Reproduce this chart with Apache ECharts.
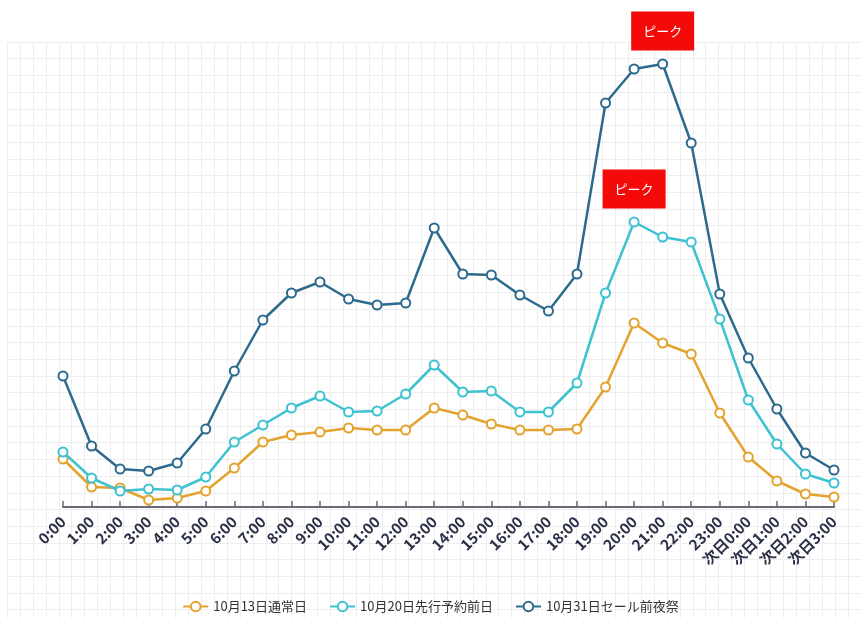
<!DOCTYPE html>
<html>
<head>
<meta charset="utf-8">
<script src="https://cdn.jsdelivr.net/npm/echarts@6/dist/echarts.min.js"></script>
<style>
  html, body { margin: 0; padding: 0; background: #fff; }
  #main { width: 861px; height: 618px; }
</style>
</head>
<body>
<div id="main"></div>
<script>
// 時間帯
var hours = ['0:00', '1:00', '2:00', '3:00', '4:00', '5:00', '6:00', '7:00', '8:00', '9:00',
  '10:00', '11:00', '12:00', '13:00', '14:00', '15:00', '16:00', '17:00', '18:00', '19:00',
  '20:00', '21:00', '22:00', '23:00', '次日0:00', '次日1:00', '次日2:00', '次日3:00'];

var seriesNames = ['10月13日通常日', '10月20日先行予約前日', '10月31日セール前夜祭'];

var normalDay = [48, 20, 19, 7, 9, 16, 39, 65, 72, 75, 79, 77, 77, 99, 92, 83, 77, 77, 78, 120, 184, 164, 153, 94, 50, 26, 13, 10];
var preOrderDay = [55, 29, 16, 18, 17, 30, 65, 82, 99, 111, 95, 96, 113, 142, 115, 116, 95, 95, 124, 214, 285, 270, 265, 188, 107, 63, 33, 24];
var saleEve = [131, 61, 38, 36, 44, 78, 136, 187, 214, 225, 208, 202, 204, 279, 233, 232, 212, 196, 233, 404, 438, 443, 364, 213, 149, 98, 54, 37];

var peakLabel = 'ピーク';

var colors = ['#E3A32E', '#3DC2D2', '#2D6A8E'];

var myChart = echarts.init(document.getElementById('main'));

function peakMark(idx, values) {
  return {
    symbol: 'rect',
    symbolSize: [63, 39],
    symbolOffset: [0, -33],
    itemStyle: { color: '#F50A0A', borderWidth: 0 },
    label: {
      show: true,
      position: 'inside',
      formatter: peakLabel,
      color: '#fff',
      fontSize: 13,
      fontFamily: 'Noto Sans CJK JP'
    },
    data: [{ coord: [idx, values[idx]] }]
  };
}

function makeSeries(i, values, mark) {
  var s = {
    name: seriesNames[i],
    type: 'line',
    data: values,
    xAxisIndex: 0,
    yAxisIndex: 0,
    symbol: 'emptyCircle',
    symbolSize: 9,
    lineStyle: { width: 2.5, color: colors[i] },
    itemStyle: { color: colors[i], borderWidth: 2.5 },
    z: 5 + i
  };
  if (mark) s.markPoint = mark;
  return s;
}

var option = {
  animation: false,
  textStyle: { fontFamily: 'Noto Sans CJK JP' },
  legend: {
    bottom: 0,
    left: 'center',
    itemGap: 22,
    itemWidth: 25,
    itemHeight: 12,
    textStyle: { fontSize: 13, color: '#333' },
    data: seriesNames
  },
  grid: [
    { left: 63, right: 27, top: 40, bottom: 111 },
    { left: 7, right: 0, top: 42, bottom: 0 }
  ],
  xAxis: [
    {
      type: 'category',
      data: hours,
      boundaryGap: false,
      gridIndex: 0,
      axisLine: { lineStyle: { color: '#676b77', width: 2 } },
      axisTick: { inside: true, length: 6, lineStyle: { color: '#676b77', width: 1.5 } },
      axisLabel: {
        rotate: 45,
        interval: 0,
        fontSize: 15,
        fontWeight: 'bold',
        color: '#2b3047',
        margin: 12
      },
      splitLine: { show: false }
    },
    {
      type: 'value',
      gridIndex: 1,
      min: 0,
      max: 66,
      interval: 1,
      show: true,
      axisLine: { show: false },
      axisTick: { show: false },
      axisLabel: { show: false },
      splitLine: { show: true, lineStyle: { color: '#eeeeee', width: 1 } }
    }
  ],
  yAxis: [
    {
      type: 'value',
      gridIndex: 0,
      min: 0,
      max: 467,
      show: false
    },
    {
      type: 'value',
      gridIndex: 1,
      min: 0,
      max: 34.5,
      interval: 1,
      inverse: true,
      axisLine: { show: false },
      axisTick: { show: false },
      axisLabel: { show: false },
      splitLine: { show: true, lineStyle: { color: '#eeeeee', width: 1 } }
    }
  ],
  series: [
    makeSeries(0, normalDay),
    makeSeries(1, preOrderDay, peakMark(20, preOrderDay)),
    makeSeries(2, saleEve, peakMark(21, saleEve))
  ]
};

myChart.setOption(option);
</script>
</body>
</html>
